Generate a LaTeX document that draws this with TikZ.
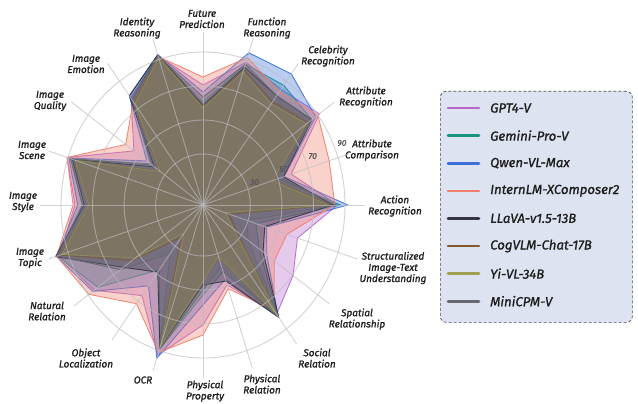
\documentclass[tikz,border=0pt]{standalone}
\usepackage{fontspec}
\setmainfont{Fira Sans}[ItalicFeatures={FakeBold=1.2}]
\definecolor{cgpt}{RGB}{184,104,204}
\definecolor{cgem}{RGB}{22,148,128}
\definecolor{cqwen}{RGB}{58,112,216}
\definecolor{cintern}{RGB}{240,128,108}
\definecolor{cllava}{RGB}{52,52,68}
\definecolor{ccog}{RGB}{130,90,40}
\definecolor{cyi}{RGB}{160,160,80}
\definecolor{cmini}{RGB}{105,105,112}
\definecolor{gridc}{RGB}{188,188,194}
\definecolor{legfill}{RGB}{221,227,240}
\definecolor{txt}{RGB}{30,30,30}
% one radar polygon: style colour, first value, remaining 19 values
\newcommand\radarpoly[3]{%
  \draw[series=#1] (90:#2) \foreach \v [count=\i] in {#3} { -- ({90-18*\i}:\v) } -- cycle;}
\begin{document}
\begin{tikzpicture}[x=1pt,y=1pt,
  series/.style={draw=#1, fill=#1, fill opacity=0.35, draw opacity=0.9, line width=0.9pt, line join=round},
  ring/.style={draw=gridc, draw opacity=0.65, line width=0.9pt},
  spoke/.style={draw=gridc, draw opacity=0.65, line width=0.9pt},
  lbl/.style={font=\fontsize{10}{11.2}\selectfont\itshape, text=txt, align=center, inner sep=1pt},
  ringlbl/.style={font=\fontsize{8.5}{9}\selectfont\itshape, text=black!65, inner sep=0pt},
  legbox/.style={draw=black!70, dashed, dash pattern=on 3pt off 2pt, rounded corners=6pt, fill=legfill, line width=0.7pt},
  legline/.style={line width=2.6pt, line cap=round},
  legtxt/.style={font=\fontsize{13.2}{15}\selectfont\itshape, text=txt, anchor=west, inner sep=0pt}]
\useasboundingbox (0,0) rectangle (638,-404);
\fill[white] (0,0) rectangle (638,-404);

% axis labels
\node[lbl] (l0) at (202,-19) {Future\\Prediction};
\node[lbl] (l1) at (267,-28) {Function\\Reasoning};
\node[lbl] (l2) at (328,-56) {Celebrity\\Recognition};
\node[lbl] (l3) at (366,-97) {Attribute\\Recognition};
\node[lbl] (l4) at (372,-150) {Attribute\\Comparison};
\node[lbl] (l5) at (395,-206) {Action\\Recognition};
\node[lbl] (l6) at (393,-268) {Structuralized\\Image-Text\\Understanding};
\node[lbl] (l7) at (357,-319) {Spatial\\Relationship};
\node[lbl] (l8) at (317,-358) {Social\\Relation};
\node[lbl] (l9) at (262,-384) {Physical\\Relation};
\node[lbl] (l10) at (205,-391) {Physical\\Property};
\node[lbl] (l11) at (143,-380) {OCR};
\node[lbl] (l12) at (86,-358) {Object\\Localization};
\node[lbl] (l13) at (47,-311) {Natural\\Relation};
\node[lbl] (l14) at (30,-258) {Image\\Topic};
\node[lbl] (l15) at (23,-202) {Image\\Style};
\node[lbl] (l16) at (32,-150) {Image\\Scene};
\node[lbl] (l17) at (50,-101) {Image\\Quality};
\node[lbl] (l18) at (86,-64) {Image\\Emotion};
\node[lbl] (l19) at (137,-28) {Identity\\Reasoning};

\begin{scope}[shift={(203,-205)}, xscale=0.928]
  \coordinate (C) at (0,0);
  % spoke ends, just short of each label
  \foreach \len [count=\i from 0] in {173,176,175,175,165,175,175,168,172,172,173,174,167,172,175,176,175,175,175,175}
    \coordinate (e\i) at ({90-18*\i}:\len);

  % model scores, radius = 1.7 x score
  \radarpoly{cgpt}{120}{150,143,155,100,145,107,120,135,84,120,158,112,145,163,138,154,92,132,157}
  \radarpoly{cgem}{103}{148,148,145,85,148,60,75,138,70,90,152,80,140,165,130,150,70,130,158}
  \radarpoly{cqwen}{113}{160,162,150,92,156,72,85,138,78,100,161,100,147,166,135,152,75,135,158}
  \radarpoly{cintern}{128}{155,140,153,143,142,95,95,130,88,130,155,122,152,166,140,154,103,128,156}
  \radarpoly{cllava}{100}{145,135,145,91,140,70,80,139,80,80,150,83,106,167,128,148,65,135,158}
  \radarpoly{ccog}{98}{142,128,140,80,137,30,45,138,55,75,148,40,95,162,122,146,58,126,157}
  \radarpoly{cyi}{97}{140,125,138,79,135,25,41,137,54,76,149,35,90,160,123,145,57,125,155}
  \radarpoly{cmini}{108}{148,135,145,88,143,50,60,139,65,85,152,60,110,165,130,150,68,130,157}

  % grid over the fills
  \foreach \v in {30,50,70,90} \draw[ring] (C) circle ({1.7*\v});
  \foreach \i in {0,...,19} \draw[spoke] (C) -- (e\i);
  \foreach \v in {30,50,70,90} \node[ringlbl] (r\v) at (22.5:{1.7*\v+9}) {\v};
\end{scope}

% legend
\node[legbox, minimum width=192pt, minimum height=231pt, anchor=north west] (leg) at (440,-91) {};
\foreach \c/\t [count=\k from 0] in {cgpt/GPT4-V, cgem/Gemini-Pro-V, cqwen/Qwen-VL-Max, cintern/InternLM-XComposer2, cllava/LLaVA-v1.5-13B, ccog/CogVLM-Chat-17B, cyi/Yi-VL-34B, cmini/MiniCPM-V}{
  \coordinate (s\k) at (448,{-108-27.6*\k});
  \coordinate (t\k) at (479,{-108-27.6*\k});
  \draw[legline, \c] (s\k) -- (t\k);
  \node[legtxt] (n\k) at (490,{-108-27.6*\k}) {\t};
}
\end{tikzpicture}
\end{document}
